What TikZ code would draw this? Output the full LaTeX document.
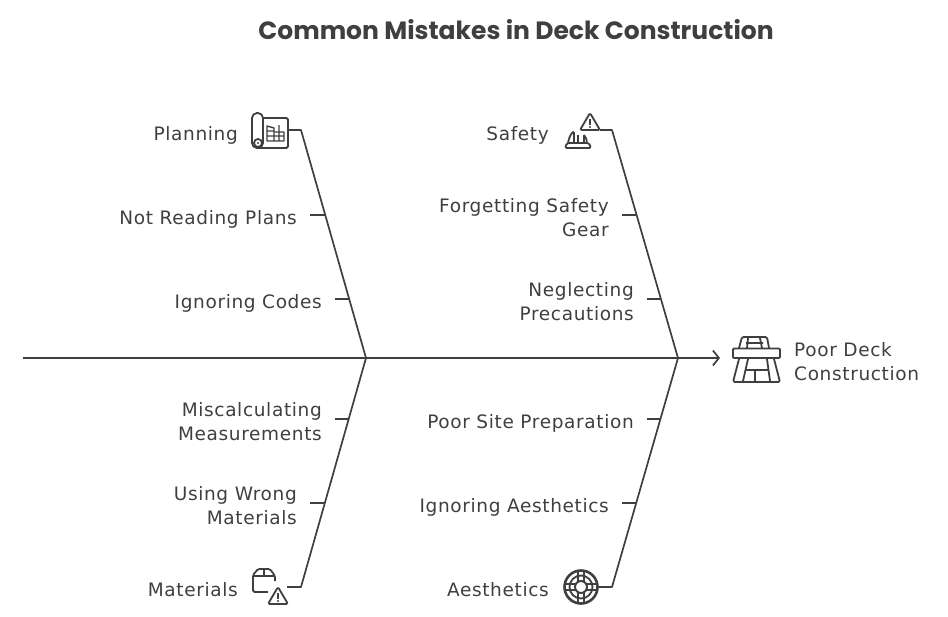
\documentclass[tikz,border=0pt]{standalone}
\usepackage{fontspec}
\setmainfont[LetterSpace=3.5]{DejaVu Sans}
\newfontfamily\titlefont{Poppins}
\usetikzlibrary{calc,arrows.meta}
\definecolor{ink}{HTML}{3F3F3F}
\tikzset{
  bone/.style={draw=ink,line width=1.7pt,line join=round},
  label/.style={anchor=east,align=right,inner sep=0pt,text=ink,font=\fontsize{18.5}{24}\selectfont},
  icon/.style={draw=ink,line width=1.8pt,rounded corners=1.5pt,line join=round},
  headarrow/.style={bone,-{Straight Barb[length=6pt,width=15pt,line width=1.7pt]}}
}
\begin{document}
\begin{tikzpicture}[x=1pt,y=-1pt]
  \useasboundingbox (0,0) rectangle (948,616);
  \node[text=ink,font=\titlefont\bfseries\fontsize{25}{28}\selectfont] (title) at (516,30) {Common Mistakes in Deck Construction};

  % spine
  \coordinate (tail) at (23,358);
  \coordinate (jointA) at (366,358);
  \coordinate (jointB) at (678,358);
  \coordinate (spineEnd) at (720,358);
  \draw[headarrow] (tail) -- (spineEnd);

  % bones
  \coordinate (headPlanning) at (301,130);
  \coordinate (headMaterials) at (301,587);
  \coordinate (headSafety) at (612,130);
  \coordinate (headAesthetics) at (612,587);
  \coordinate (iconPlanning) at (288,130);
  \coordinate (iconMaterials) at (287,587);
  \coordinate (iconSafety) at (600,130);
  \coordinate (iconAesthetics) at (598,587);
  \draw[bone] (iconPlanning) -- (headPlanning) -- (jointA);
  \draw[bone] (iconMaterials) -- (headMaterials) -- (jointA);
  \draw[bone] (iconSafety) -- (headSafety) -- (jointB);
  \draw[bone] (iconAesthetics) -- (headAesthetics) -- (jointB);

  % labels
  \node[label] (planning) at (238,135) {Planning};
  \node[label] (reading) at (297,219) {Not Reading Plans};
  \node[label] (codes) at (322,303) {Ignoring Codes};
  \node[label] (measure) at (322,422) {Miscalculating\\Measurements};
  \node[label] (wrong) at (297,506) {Using Wrong\\Materials};
  \node[label] (materials) at (238,590) {Materials};
  \node[label] (safety) at (549,135) {Safety};
  \node[label] (gear) at (609,218) {Forgetting Safety\\Gear};
  \node[label] (precaution) at (634,302) {Neglecting\\Precautions};
  \node[label] (site) at (634,423) {Poor Site Preparation};
  \node[label] (looks) at (609,507) {Ignoring Aesthetics};
  \node[label] (aesthetics) at (549,590) {Aesthetics};
  \node[label,anchor=west,align=left] (effect) at (794,362) {Poor Deck\\Construction};

  % ticks
  \coordinate (tickReading) at ($(headPlanning)!0.373!(jointA)$);
  \coordinate (tickCodes) at ($(headPlanning)!0.741!(jointA)$);
  \coordinate (tickMeasure) at ($(jointA)!0.267!(headMaterials)$);
  \coordinate (tickWrong) at ($(jointA)!0.634!(headMaterials)$);
  \coordinate (tickGear) at ($(headSafety)!0.373!(jointB)$);
  \coordinate (tickPrecaution) at ($(headSafety)!0.741!(jointB)$);
  \coordinate (tickSite) at ($(jointB)!0.267!(headAesthetics)$);
  \coordinate (tickLooks) at ($(jointB)!0.634!(headAesthetics)$);
  \draw[bone,shorten <=13pt] (reading.east |- tickReading) -- (tickReading);
  \draw[bone,shorten <=13pt] (codes.east |- tickCodes) -- (tickCodes);
  \draw[bone,shorten <=13pt] (measure.east |- tickMeasure) -- (tickMeasure);
  \draw[bone,shorten <=13pt] (wrong.east |- tickWrong) -- (tickWrong);
  \draw[bone,shorten <=13pt] (gear.east |- tickGear) -- (tickGear);
  \draw[bone,shorten <=13pt] (precaution.east |- tickPrecaution) -- (tickPrecaution);
  \draw[bone,shorten <=13pt] (site.east |- tickSite) -- (tickSite);
  \draw[bone,shorten <=13pt] (looks.east |- tickLooks) -- (tickLooks);

  % icon: plan roll
  \draw[icon,rounded corners=5pt] (252,148) rectangle (263,113);
  \draw[icon] (263,118) -- (288,118) -- (288,148) -- (256,148);
  \draw[icon] (258,143) circle (4);
  \fill[ink] (258,143) circle (1.2);
  \draw[icon,line width=1.4pt,rounded corners=0pt] (267,141) -- (267,126) -- (274,128) -- (274,141) -- cycle
    (274,132) -- (284,132) -- (284,141) -- (274,141)
    (279,125) -- (279,141) (267,131) -- (274,131) (267,136) -- (284,136);

  % icon: warning and helmet
  \draw[icon] (590,113) -- (600,130) -- (580,130) -- cycle;
  \draw[ink,line width=1.8pt] (590,119) -- (590,124.5);
  \fill[ink] (590,127) circle (1.1);
  \draw[icon] (565,148) -- (591,148) -- (589,143) -- (567,143) -- cycle;
  \draw[icon] (568,143) .. controls (569,137) and (571,134) .. (574,131) -- (574,143);
  \draw[icon] (578,135) -- (578,143) (584,135) -- (584,143);
  \draw[icon] (584,135) .. controls (586,137) and (587,140) .. (587,143);

  % icon: road
  \draw[icon] (739,348) -- (742,337) -- (767,337) -- (769,348);
  \draw[icon] (747,348) -- (748,338) (762,348) -- (760,338) (746,343) -- (763,343);
  \draw[icon,rounded corners=1pt] (733,348.5) rectangle (780,358);
  \draw[icon] (739,359) -- (733,382) -- (780,382) -- (774,359);
  \draw[icon] (748,359) -- (743,381) (767,359) -- (770,381);
  \draw[icon] (745,370) -- (768,370) (755,370) -- (755,381);

  % icon: box and warning
  \draw[icon] (268,592) -- (253,592) -- (253,575) -- (258,569) -- (270,569) -- (275,576) -- (275,581);
  \draw[icon] (253,576) -- (275,576) (264,569) -- (264,576);
  \draw[icon] (278,587) -- (288,604) -- (268,604) -- cycle;
  \draw[ink,line width=1.8pt] (278,593) -- (278,598.5);
  \fill[ink] (278,601) circle (1.1);

  % icon: wheel
  \draw[ink,line width=2.6pt] (581,587) circle (16.5);
  \draw[icon] (581,587) circle (11.5);
  \draw[ink,line width=2pt] (581,587) circle (6);
  \foreach \a in {0,90,180,270}{
    \draw[icon,rotate around={\a:(581,587)}] (578,581) -- (578,571) (584,581) -- (584,571);
  }
\end{tikzpicture}
\end{document}
